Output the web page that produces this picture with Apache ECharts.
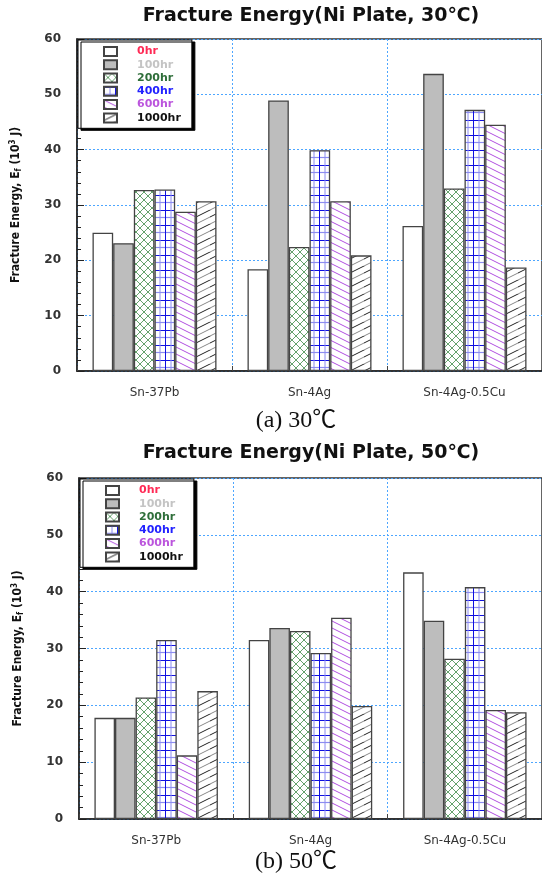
<!DOCTYPE html>
<html>
<head>
<meta charset="utf-8">
<title>Fracture Energy</title>
<script src="https://cdn.jsdelivr.net/npm/echarts@6/dist/echarts.min.js"></script>
<style>
  body { margin: 0; background: #fff; }
</style>
</head>
<body>
<div id="chart" style="width: 542px; height: 877px;"></div>
<script type="text/javascript">
// data (10^3 J)
var categories = ['Sn-37Pb', 'Sn-4Ag', 'Sn-4Ag-0.5Cu'];
var hours = ['0hr', '100hr', '200hr', '400hr', '600hr', '1000hr'];

var e30_0hr    = [25.0, 18.4, 26.2];
var e30_100hr  = [23.1, 48.9, 53.7];
var e30_200hr  = [32.7, 22.4, 33.0];
var e30_400hr  = [32.8, 39.9, 47.2];
var e30_600hr  = [28.8, 30.7, 44.5];
var e30_1000hr = [30.7, 20.9, 18.7];

var e50_0hr    = [17.8, 31.5, 43.4];
var e50_100hr  = [17.8, 33.6, 34.9];
var e50_200hr  = [21.4, 33.1, 28.2];
var e50_400hr  = [31.5, 29.2, 40.8];
var e50_600hr  = [11.2, 35.4, 19.2];
var e50_1000hr = [22.5, 19.9, 18.8];

var yMin = 0, yMax = 60, yStep = 10;

var titles = ['Fracture Energy(Ni Plate, 30\u2103)', 'Fracture Energy(Ni Plate, 50\u2103)'];
var captions = ['(a) 30\u2103', '(b) 50\u2103'];

// hatch fills
function tile(w, h, draw) {
    var c = document.createElement('canvas');
    c.width = w; c.height = h;
    var ctx = c.getContext('2d');
    ctx.fillStyle = '#fff';
    ctx.fillRect(0, 0, w, h);
    draw(ctx, w, h);
    return { image: c, repeat: 'repeat' };
}
function line(ctx, x1, y1, x2, y2, col, lw) {
    ctx.strokeStyle = col;
    ctx.lineWidth = lw || 1;
    ctx.beginPath();
    ctx.moveTo(x1, y1);
    ctx.lineTo(x2, y2);
    ctx.stroke();
}
var fills = [
    '#ffffff',
    '#bdbdbd',
    tile(8, 8, function (ctx, w, h) {
        line(ctx, 0, 0, w, h, '#3d8a48', 0.8);
        line(ctx, w, 0, 0, h, '#3d8a48', 0.8);
    }),
    tile(11, 15, function (ctx, w, h) {
        line(ctx, 0, 0.5, w, 0.5, '#1010e0', 1);
        line(ctx, 0, 7.5, w, 7.5, '#8c8cf0', 1.2);
        line(ctx, 0.5, 0, 0.5, h, '#1010e0', 1);
        line(ctx, 6, 0, 6, h, '#8c8cf0', 1);
    }),
    tile(14, 7, function (ctx, w, h) {
        line(ctx, 0, 0, w, h, '#b04fe0', 1);
        line(ctx, 0, -h, w, 0, '#b04fe0', 1);
        line(ctx, 0, h, w, 2 * h, '#b04fe0', 1);
    }),
    tile(14, 14, function (ctx, w, h) {
        line(ctx, 0, 7, w, 0, '#222', 1);
        line(ctx, 0, 14, w, 7, '#888', 1);
        line(ctx, 0, 21, w, 14, '#888', 1);
        line(ctx, 0, 0, w, -7, '#222', 1);
    })
];
var legendColors = ['#ff2a55', '#c4c4c4', '#2f6e3a', '#2222ff', '#bb55dd', '#111111'];

var grids = [
    { left: 77, top: 39, width: 467, height: 332 },
    { left: 79, top: 478, width: 465, height: 341 }
];

var chart = echarts.init(document.getElementById('chart'));

var narrow = "'Liberation Sans Narrow', 'DejaVu Sans Condensed', 'Liberation Sans', sans-serif";
var gridLine = { show: true, lineStyle: { color: '#4da6ff', type: [2, 2], width: 1 } };
var xAxes = [], yAxes = [], series = [], legends = [], graphics = [];
var sets = [
    [e30_0hr, e30_100hr, e30_200hr, e30_400hr, e30_600hr, e30_1000hr],
    [e50_0hr, e50_100hr, e50_200hr, e50_400hr, e50_600hr, e50_1000hr]
];

for (var g = 0; g < 2; g++) {
    xAxes.push({
        type: 'category',
        gridIndex: g,
        data: categories,
        axisLine: { lineStyle: { color: '#222', width: 1.5 } },
        axisTick: { show: true, inside: true, length: 5, lineStyle: { color: '#444' } },
        axisLabel: { color: '#333', fontFamily: 'DejaVu Sans', fontSize: 12, margin: 16 },
        splitLine: gridLine
    });
    yAxes.push({
        type: 'value',
        gridIndex: g,
        min: yMin, max: yMax, interval: yStep,
        name: 'Fracture Energy, E{sub|f} (10{sup|3} J)',
        nameLocation: 'middle',
        nameGap: 54,
        nameTextStyle: {
            fontFamily: narrow, fontSize: 12, fontWeight: 'bold', color: '#111',
            rich: {
                sub: { fontFamily: narrow, fontSize: 8, fontWeight: 'bold', verticalAlign: 'bottom', padding: [6, 0, 0, 0] },
                sup: { fontFamily: narrow, fontSize: 8, fontWeight: 'bold', verticalAlign: 'top', padding: [0, 0, 6, 0] }
            }
        },
        axisLine: { show: true, lineStyle: { color: '#222', width: 1.5 } },
        axisTick: { show: true, inside: true, length: 7, lineStyle: { color: '#222' } },
        minorTick: { show: true, splitNumber: 5, length: 4, lineStyle: { color: '#222' } },
        axisLabel: { color: '#333', fontFamily: 'DejaVu Sans', fontWeight: 'bold', fontSize: 12, margin: 16 },
        splitLine: gridLine
    });
    for (var i = 0; i < hours.length; i++) {
        series.push({
            name: hours[i],
            type: 'bar',
            xAxisIndex: g,
            yAxisIndex: g,
            data: sets[g][i],
            barGap: '0%',
            barCategoryGap: '20%',
            itemStyle: { color: fills[i], borderColor: '#444', borderWidth: 1.3 }
        });
    }
    legends.push({
        orient: 'vertical',
        left: grids[g].left + 1,
        top: grids[g].top + 1,
        icon: 'rect',
        itemWidth: 13,
        itemHeight: 9,
        itemGap: 0.5,
        padding: [5, 11, 4, 25],
        backgroundColor: '#fff',
        borderColor: '#000',
        borderWidth: 1,
        shadowColor: '#000',
        shadowBlur: 0,
        shadowOffsetX: 3,
        shadowOffsetY: 2,
        selectedMode: false,
        textStyle: { fontFamily: 'DejaVu Sans', fontSize: 11, fontWeight: 'bold', lineHeight: 12.8, padding: [0, 0, 0, 15] },
        data: hours.map(function (h, k) {
            return { name: h, textStyle: { color: legendColors[k] } };
        })
    });
    graphics.push({
        type: 'text',
        x: 311, y: g === 0 ? 16 : 453,
        style: {
            text: titles[g], align: 'center', verticalAlign: 'middle',
            font: 'bold 19px "DejaVu Sans"', fill: '#111'
        }
    });
    graphics.push({
        type: 'text',
        x: 296, y: g === 0 ? 421 : 862,
        style: {
            text: captions[g], align: 'center', verticalAlign: 'middle',
            font: '24px "Liberation Serif", "Noto Sans CJK SC"', fill: '#111'
        }
    });
}

var option = {
    animation: false,
    grid: grids.map(function (gr) {
        return { left: gr.left, top: gr.top, width: gr.width, height: gr.height, show: true, borderColor: '#333', borderWidth: 1.5 };
    }),
    xAxis: xAxes,
    yAxis: yAxes,
    legend: legends,
    series: series,
    graphic: graphics
};

chart.setOption(option);
</script>
</body>
</html>
